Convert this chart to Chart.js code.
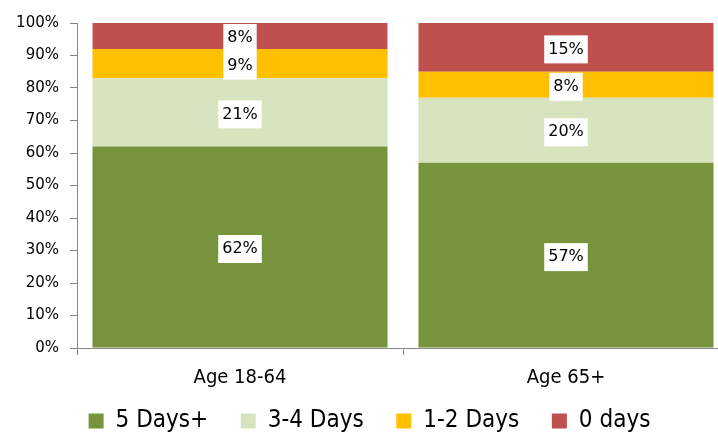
<!DOCTYPE html>
<html>
<head>
<meta charset="utf-8">
<script src="https://cdn.jsdelivr.net/npm/chart.js@4/dist/chart.umd.min.js"></script>
<style>
  body { margin: 0; background: #fff; overflow: hidden; }
  #wrap { width: 740px; height: 432px; }
</style>
</head>
<body>
<div id="wrap"><canvas id="myChart" width="740" height="432"></canvas></div>
<script>
var categories = ['Age 18-64', 'Age 65+'];
var seriesNames = ['5 Days+', '3-4 Days', '1-2 Days', '0 days'];
var days5plus = [62, 57];
var days3to4 = [21, 20];
var days1to2 = [9, 8];
var days0 = [8, 15];
var yTicks = [0, 10, 20, 30, 40, 50, 60, 70, 80, 90, 100];

var colors = ['#77933c', '#d7e4bd', '#ffc000', '#c0504d'];
var condensed = "'DejaVu Sans Condensed', sans-serif";
var wide = "'DejaVu Sans', sans-serif";

// white boxed value labels in the middle of each segment
var valueLabels = {
  id: 'valueLabels',
  afterDatasetsDraw: function(chart) {
    var ctx = chart.ctx;
    ctx.save();
    ctx.font = '16px ' + wide;
    ctx.textAlign = 'center';
    ctx.textBaseline = 'middle';
    chart.data.datasets.forEach(function(ds, i) {
      var meta = chart.getDatasetMeta(i);
      meta.data.forEach(function(bar, j) {
        var text = ds.data[j] + '%';
        var cy = (bar.y + bar.base) / 2 + 2;
        var w = ctx.measureText(text).width + 8;
        ctx.fillStyle = '#fff';
        ctx.fillRect(bar.x - w / 2, cy - 14, w, 28);
        ctx.fillStyle = '#000';
        ctx.fillText(text, bar.x, cy);
      });
    });
    ctx.restore();
  }
};

var ctx = document.getElementById('myChart').getContext('2d');
new Chart(ctx, {
  type: 'bar',
  data: {
    labels: categories,
    datasets: [
      { label: seriesNames[0], data: days5plus, backgroundColor: colors[0] },
      { label: seriesNames[1], data: days3to4, backgroundColor: colors[1] },
      { label: seriesNames[2], data: days1to2, backgroundColor: colors[2] },
      { label: seriesNames[3], data: days0, backgroundColor: colors[3] }
    ]
  },
  options: {
    responsive: false,
    animation: false,
    layout: { padding: { top: 23, right: 11, left: 10, bottom: -11 } },
    datasets: { bar: { categoryPercentage: 0.905, barPercentage: 1 } },
    scales: {
      x: {
        stacked: true,
        grid: { offset: true, drawOnChartArea: false, color: '#868686', tickLength: 7 },
        border: { color: '#868686' },
        ticks: { color: '#000', font: { family: condensed, size: 20 }, padding: 11 },
        afterFit: function(scale) { scale.height = 49; }
      },
      y: {
        stacked: true,
        min: 0,
        max: 100,
        afterBuildTicks: function(scale) {
          scale.ticks = yTicks.map(function(v) { return { value: v }; });
        },
        grid: { drawOnChartArea: false, color: '#868686', tickLength: 7 },
        border: { color: '#868686' },
        ticks: {
          color: '#000',
          font: { family: wide, size: 15 },
          padding: 11,
          callback: function(v) { return v + '%'; }
        },
        afterFit: function(scale) { scale.width = 67; }
      }
    },
    plugins: {
      legend: {
        position: 'bottom',
        labels: {
          color: '#000',
          boxWidth: 15,
          boxHeight: 15,
          padding: 12,
          font: { family: condensed, size: 24 },
          generateLabels: function(chart) {
            var items = Chart.defaults.plugins.legend.labels.generateLabels(chart);
            // extra gap after every entry except the last
            items.forEach(function(item, i) {
              if (i < items.length - 1) item.text = item.text + '   ';
            });
            return items;
          }
        }
      },
      tooltip: { enabled: false }
    }
  },
  plugins: [valueLabels]
});
</script>
</body>
</html>
